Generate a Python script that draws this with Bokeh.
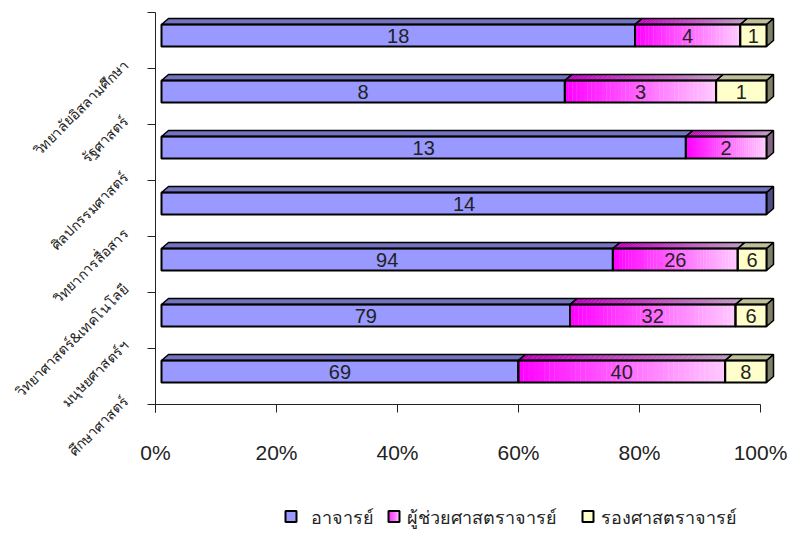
import math
from bokeh.plotting import figure
from bokeh.models import Range1d, FixedTicker, LinearAxis, NumeralTickFormatter
from bokeh.layouts import column
from bokeh.embed import file_html
from bokeh.resources import INLINE
from bokeh.core.properties import value

# ---------------- data (top row first) ----------------
categories = ["วิทยาลัยอิสลามศึกษา", "รัฐศาสตร์", "ศิลปกรรมศาสตร์", "วิทยาการสื่อสาร",
              "วิทยาศาสตร์&เทคโนโลยี", "มนุษยศาสตร์ฯ", "ศึกษาศาสตร์"]
lecturer = [18, 8, 13, 14, 94, 79, 69]
asst_prof = [4, 3, 2, 0, 26, 32, 40]
assoc_prof = [1, 1, 0, 0, 6, 6, 8]
series_names = ["อาจารย์", "ผู้ช่วยศาสตราจารย์", "รองศาสตราจารย์"]
x_ticks = [0, 0.2, 0.4, 0.6, 0.8, 1.0]

# ---------------- style ----------------
THAI = "Noto Sans"
NUM = "Liberation Sans"
W = 789
H_MAIN = 490
H_LEG = 534 - H_MAIN
F_LEFT, F_RIGHT = 155, 780       # frame edges (page px)
F_TOP, F_BOT = 12, 412
AXIS_W = 605                      # px for 0..100%
N = len(categories)
PX_X = 1.0 / AXIS_W
PX_Y = 1.0 / 56.0
FLOOR_DROP = 8 * PX_Y             # vertical axis runs below the floor
FRONT_SHIFT = 6 * PX_X
DX = 7 * PX_X
DY = 6 * PX_Y
BAR_BOTTOM = 22 * PX_Y
BAR_TOP = 44 * PX_Y
LABEL_SHIFT = 6 * PX_Y

BLUE = ("#9999FF", "#7373BF", "#4D4D80")
YELLOW = ("#FFFFCC", "#BFBF99", "#80806A")
PINK_L = (255, 0, 255)
PINK_R = (255, 204, 255)
INK = "#222222"


def mix(c1, c2, t, k=1.0):
    return "#%02x%02x%02x" % tuple(int(round((a + (b - a) * t) * k)) for a, b in zip(c1, c2))


p = figure(width=W, height=H_MAIN,
           x_range=Range1d(0, (F_RIGHT - F_LEFT) * PX_X),
           y_range=Range1d(-FLOOR_DROP, N),
           y_axis_location=None,
           output_backend="svg", toolbar_location=None,
           min_border_left=F_LEFT, min_border_right=W - F_RIGHT,
           min_border_top=F_TOP, min_border_bottom=H_MAIN - F_BOT)
p.grid.visible = False
p.outline_line_color = None
p.background_fill_color = "white"
p.border_fill_color = "white"

# x axis: ticks hang below the floor
p.xaxis.ticker = FixedTicker(ticks=x_ticks)
p.xaxis.formatter = NumeralTickFormatter(format="0%")
p.xaxis.major_tick_out = 0
p.xaxis.major_tick_in = 8
p.xaxis.minor_tick_line_color = None
p.xaxis.axis_line_color = None
p.xaxis.major_tick_line_color = INK
p.xaxis.major_label_text_font = NUM
p.xaxis.major_label_text_font_size = "21px"
p.xaxis.major_label_text_color = INK
p.xaxis.major_label_standoff = 28

# floor line (0..100%)
p.segment(x0=[0], y0=[0], x1=[x_ticks[-1]], y1=[0], line_color=INK, line_width=1)

# category axis: labels (rotated 45 degrees) on major ticks, boundary ticks as minor ticks
p.extra_y_ranges = {"lab": Range1d(-FLOOR_DROP - LABEL_SHIFT, N - LABEL_SHIFT)}
lab_axis = LinearAxis(y_range_name="lab",
                      ticker=FixedTicker(ticks=list(range(N)),
                                         minor_ticks=[k - LABEL_SHIFT for k in range(N + 1)]),
                      major_label_overrides={N - 1 - i: c for i, c in enumerate(categories)},
                      major_label_orientation=math.pi / 4,
                      axis_line_color=INK, major_tick_line_color=None,
                      major_tick_in=0, major_tick_out=0,
                      minor_tick_line_color=INK, minor_tick_out=8, minor_tick_in=0,
                      major_label_standoff=22,
                      major_label_text_font=THAI, major_label_text_font_size="14px",
                      major_label_text_color=INK)
p.add_layout(lab_axis, "left")

# ---------------- bars ----------------
front = dict(l=[], r=[], b=[], t=[], c=[])
tops = dict(xs=[], ys=[], c=[])
outline_front = dict(l=[], r=[], b=[], t=[])
outline_top = dict(xs=[], ys=[])
side = dict(xs=[], ys=[], c=[])
labels = dict(x=[], y=[], text=[])

for i, cat in enumerate(categories):
    yi = N - 1 - i
    vals = [lecturer[i], asst_prof[i], assoc_prof[i]]
    tot = float(sum(vals))
    yb = yi + BAR_BOTTOM
    yt = yi + BAR_TOP
    x0 = 0.0
    last_end = None
    last_color = None
    for s, v in enumerate(vals):
        if v <= 0:
            continue
        x1 = x0 + v / tot
        a = x0 + FRONT_SHIFT
        b = x1 + FRONT_SHIFT
        if s == 1:
            nstrip = 40
            for k in range(nstrip):
                t0 = k / nstrip
                t1 = (k + 1) / nstrip
                sa = a + (b - a) * t0
                sb = a + (b - a) * t1 + 0.3 * PX_X
                front["l"].append(sa); front["r"].append(sb)
                front["b"].append(yb); front["t"].append(yt)
                front["c"].append(mix(PINK_L, PINK_R, (k + 0.5) / nstrip))
                tops["xs"].append([sa, sa + DX, sb + DX, sb])
                tops["ys"].append([yt, yt + DY, yt + DY, yt])
                tops["c"].append(mix(PINK_L, PINK_R, (k + 0.5) / nstrip, 0.75))
            last_color = mix(PINK_L, PINK_R, 1.0, 0.5)
        else:
            pal = BLUE if s == 0 else YELLOW
            front["l"].append(a); front["r"].append(b)
            front["b"].append(yb); front["t"].append(yt)
            front["c"].append(pal[0])
            tops["xs"].append([a, a + DX, b + DX, b])
            tops["ys"].append([yt, yt + DY, yt + DY, yt])
            tops["c"].append(pal[1])
            last_color = pal[2]
        outline_front["l"].append(a); outline_front["r"].append(b)
        outline_front["b"].append(yb); outline_front["t"].append(yt)
        outline_top["xs"].append([a, a + DX, b + DX, b])
        outline_top["ys"].append([yt, yt + DY, yt + DY, yt])
        labels["x"].append((a + b) / 2)
        labels["y"].append((yb + yt) / 2)
        labels["text"].append(str(v))
        last_end = b
        x0 = x1
    side["xs"].append([last_end, last_end + DX, last_end + DX, last_end])
    side["ys"].append([yb, yb + DY, yt + DY, yt])
    side["c"].append(last_color)

p.patches(xs="xs", ys="ys", fill_color="c", line_color=None, source=tops)
p.patches(xs="xs", ys="ys", fill_color="c", line_color="black", line_width=1.5, source=side)
p.quad(left="l", right="r", bottom="b", top="t", fill_color="c", line_color=None, source=front)
p.patches(xs="xs", ys="ys", fill_color=None, line_color="black", line_width=1.5, source=outline_top)
p.quad(left="l", right="r", bottom="b", top="t", fill_color=None, line_color="black",
       line_width=2, source=outline_front)
p.text(x="x", y="y", text="text", source=labels, text_font=value(NUM), text_font_size="20px",
       text_color=INK, text_align="center", text_baseline="middle")

# ---------------- legend (separate strip, x in page pixels) ----------------
lg = figure(width=W, height=H_LEG, x_range=Range1d(F_LEFT, F_RIGHT), y_range=Range1d(H_LEG, 0),
            output_backend="svg", toolbar_location=None,
            min_border_left=F_LEFT, min_border_right=W - F_RIGHT, min_border_top=0,
            min_border_bottom=0)
lg.axis.visible = False
lg.grid.visible = False
lg.outline_line_color = None
LY = 516 - H_MAIN
SQ = 11
sq_x = [285, 388, 582]
tx_x = [310, 406, 600]
lg.quad(left=[sq_x[0]], right=[sq_x[0] + SQ], top=[LY - SQ / 2], bottom=[LY + SQ / 2],
        fill_color=BLUE[0], line_color="black", line_width=2)
nst = 12
lg.quad(left=[sq_x[1] + SQ * k / nst for k in range(nst)],
        right=[sq_x[1] + SQ * (k + 1) / nst + 0.3 for k in range(nst)],
        top=[LY - SQ / 2] * nst, bottom=[LY + SQ / 2] * nst,
        fill_color=[mix(PINK_L, PINK_R, (k + 0.5) / nst) for k in range(nst)], line_color=None)
lg.quad(left=[sq_x[1]], right=[sq_x[1] + SQ], top=[LY - SQ / 2], bottom=[LY + SQ / 2],
        fill_color=None, line_color="black", line_width=2)
lg.quad(left=[sq_x[2]], right=[sq_x[2] + SQ], top=[LY - SQ / 2], bottom=[LY + SQ / 2],
        fill_color=YELLOW[0], line_color="black", line_width=2)
lg.text(x=tx_x, y=[LY] * 3, text=series_names, text_font=value(THAI), text_font_size="18px",
        text_color=INK, text_align="left", text_baseline="middle")

layout = column(p, lg, spacing=0)
open("out.html", "w").write(file_html(layout, INLINE))
